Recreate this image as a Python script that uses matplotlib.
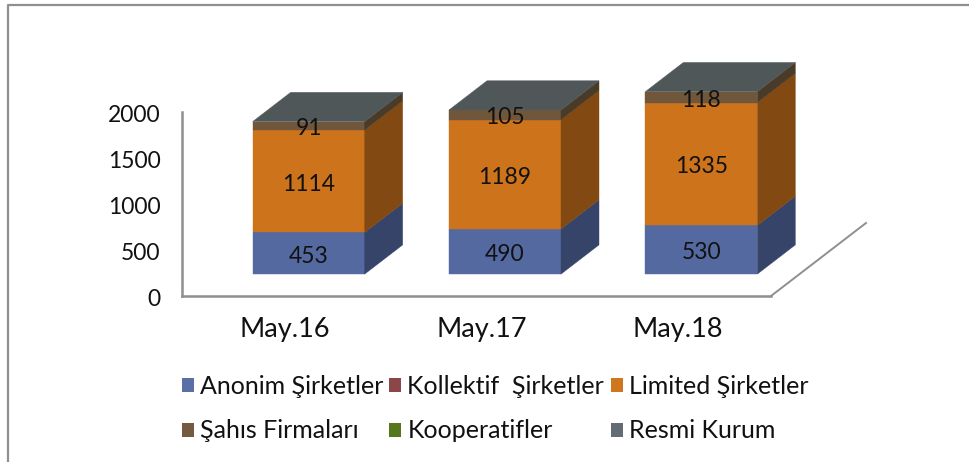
import matplotlib.pyplot as plt
from matplotlib.lines import Line2D
from matplotlib.patches import Patch, Polygon
from matplotlib.transforms import ScaledTranslation

categories = ['May.16', 'May.17', 'May.18']
series_names = ['Anonim Şirketler', 'Kollektif  Şirketler', 'Limited Şirketler',
                'Şahıs Firmaları', 'Kooperatifler', 'Resmi Kurum']
anonim = [453, 490, 530]
kollektif = [0, 0, 0]
limited = [1114, 1189, 1335]
sahis = [91, 105, 118]
kooperatif = [0, 0, 0]
resmi = [0, 0, 0]
series_values = [anonim, kollektif, limited, sahis, kooperatif, resmi]
y_ticks = [0, 500, 1000, 1500, 2000]

legend_colors = ['#5A6FA6', '#8C4548', '#CE771F', '#735A40', '#55781C', '#636C74']
front_colors = ['#5369A0', '#8C4548', '#CC731C', '#70573C', '#55781C', '#636C74']
side_colors = ['#36446A', '#5C2E30', '#824A12', '#4A3A28', '#385010', '#434A50']
top_color = '#4F5759'
axis_color = '#8F8F8F'
FONT = 'Lato'

W, H = 969, 462
plt.rcParams['font.family'] = FONT

fig = plt.figure(figsize=(W / 100, H / 100), dpi=100)
# axes box is the front edge of the floor + the left wall, in pixels
ax = fig.add_axes([182 / W, (H - 296) / H, 589 / W, 184 / H])
ax.patch.set_alpha(0)
ax.set_xlim(-0.5, 2.5)
ax.set_ylim(0, 2000)

# oblique depth of the floor, in data units
depth_x = 95 / (589 / 3)
depth_y = 73 / (184 / 2000)
bar_w = 112 / (589 / 3)
near, far = 0.30, 0.70


def face(pts, color, z):
    ax.add_patch(Polygon(pts, closed=True, facecolor=color, edgecolor=color,
                         linewidth=0.3, zorder=z, clip_on=False))


# right edge of the floor
ax.plot([2.5, 2.5 + depth_x], [0, depth_y], color=axis_color, lw=1.4, clip_on=False, zorder=1)

for i, cat in enumerate(categories):
    x0 = i - bar_w / 2 + near * depth_x
    x1 = x0 + bar_w
    y_base = near * depth_y
    dx = (far - near) * depth_x
    dy = (far - near) * depth_y
    bottom = y_base
    for s, vals in enumerate(series_values):
        v = vals[i]
        if v == 0:
            continue
        top = bottom + v
        face([(x0, bottom), (x1, bottom), (x1, top), (x0, top)], front_colors[s], 3)
        face([(x1, bottom), (x1 + dx, bottom + dy), (x1 + dx, top + dy), (x1, top)], side_colors[s], 3)
        ax.annotate(str(v), ((x0 + x1) / 2, bottom + v / 2), xytext=(0, -2.2),
                    textcoords='offset points', ha='center', va='center',
                    fontsize=16.5, color='#111111', zorder=5, annotation_clip=False)
        bottom = top
    face([(x0, bottom), (x1, bottom), (x1 + dx, bottom + dy), (x0 + dx, bottom + dy)], top_color, 4)

for name in ['top', 'right']:
    ax.spines[name].set_visible(False)
for name in ['left', 'bottom']:
    ax.spines[name].set_color(axis_color)
    ax.spines[name].set_linewidth(1.8)

ax.set_yticks(y_ticks)
ax.set_xticks(range(len(categories)))
ax.set_xticklabels(categories)
ax.tick_params(axis='both', length=0, labelcolor='#111111')
ax.tick_params(axis='y', pad=15.5, labelsize=16.5)
ax.tick_params(axis='x', pad=15, labelsize=19.5)
shift_x = ScaledTranslation(5 / 100, 0, fig.dpi_scale_trans)
for lab in ax.get_xticklabels():
    lab.set_transform(lab.get_transform() + shift_x)
shift_y = ScaledTranslation(0, -2 / 100, fig.dpi_scale_trans)
for lab in ax.get_yticklabels():
    lab.set_transform(lab.get_transform() + shift_y)

# legend fills by column, the picture reads by row
order = [0, 3, 1, 4, 2, 5]
handles = [Patch(facecolor=legend_colors[k], edgecolor='none') for k in order]
fig.legend(handles, [series_names[k] for k in order], ncol=3, frameon=False,
           loc='upper left', bbox_to_anchor=(159 / W, 1 - 352 / H),
           fontsize=18, handlelength=0.48, handleheight=0.48, handletextpad=0.24,
           columnspacing=0.26, labelspacing=0.88, labelcolor='#111111')

# outer chart frame, only top and left show
fig.add_artist(Line2D([8 / W, 8 / W, 1], [0, 1 - 5 / H, 1 - 5 / H], color=axis_color, lw=1.6))

fig.savefig('out.png', dpi=100)
